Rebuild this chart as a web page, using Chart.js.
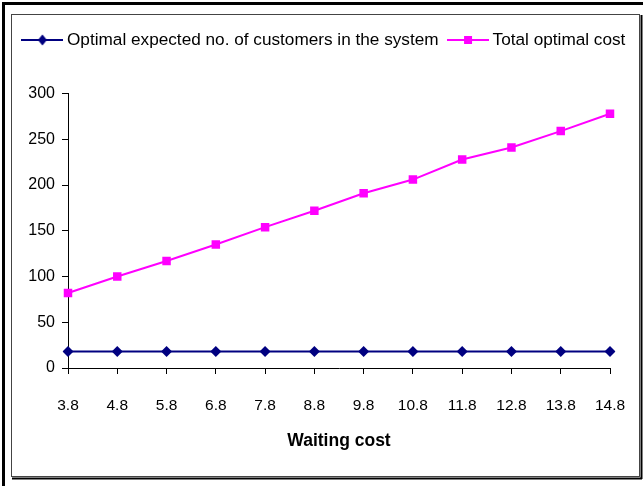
<!DOCTYPE html>
<html>
<head>
<meta charset="utf-8">
<script src="https://cdn.jsdelivr.net/npm/chart.js@4"></script>
<style>
  html, body { margin: 0; padding: 0; background: #fff; }
  #wrap { width: 643px; height: 486px; position: relative; }
</style>
</head>
<body>
<div id="wrap"><canvas id="c" width="643" height="486"></canvas></div>
<script>
const categories = ['3.8','4.8','5.8','6.8','7.8','8.8','9.8','10.8','11.8','12.8','13.8','14.8'];
const customersInSystem = [18, 18, 18, 18, 18, 18, 18, 18, 18, 18, 18, 18];
const totalOptimalCost = [82, 100, 117, 135, 154, 172, 191, 206, 228, 241, 259, 278];
const yTicks = [0, 50, 100, 150, 200, 250, 300];
const seriesNames = ['Optimal expected no. of customers in the system', 'Total optimal cost'];
const xTitle = 'Waiting cost';

const FONT = "'Liberation Sans', Arial, sans-serif";
const NAVY = '#000080';
const PINK = '#FF00FF';

function makeSymbol(color, shape) {
  const cv = document.createElement('canvas');
  cv.width = 42; cv.height = 14;
  const g = cv.getContext('2d');
  g.strokeStyle = color; g.lineWidth = 2;
  g.beginPath(); g.moveTo(0, 7); g.lineTo(42, 7); g.stroke();
  g.fillStyle = color;
  g.beginPath();
  if (shape === 'diamond') {
    g.moveTo(21, 1.5); g.lineTo(25.5, 7); g.lineTo(21, 12.5); g.lineTo(16.5, 7); g.closePath();
  } else {
    g.rect(17, 3, 8, 8);
  }
  g.fill();
  return cv;
}
const symbols = [makeSymbol(NAVY, 'diamond'), makeSymbol(PINK, 'square')];

const LEGEND_EXTRA = 35;

const framePlugin = {
  id: 'frame',
  beforeLayout(chart) {
    const lg = chart.legend;
    if (lg && !lg._extraPatched) {
      const orig = lg.fit.bind(lg);
      lg.fit = function () { orig(); this.height += LEGEND_EXTRA; };
      lg._extraPatched = true;
    }
  },
  beforeDraw(chart) {
    const ctx = chart.ctx;
    ctx.save();
    ctx.fillStyle = '#fff';
    ctx.fillRect(0, 0, chart.width, chart.height);
    ctx.restore();
  },
  afterDraw(chart) {
    const ctx = chart.ctx;
    ctx.save();
    ctx.strokeStyle = '#000';
    ctx.lineWidth = 3;
    ctx.beginPath();
    ctx.moveTo(643, 3.5); ctx.lineTo(3.5, 3.5); ctx.lineTo(3.5, 486);
    ctx.stroke();
    ctx.lineWidth = 1;
    ctx.strokeStyle = '#444';
    ctx.strokeRect(11.5, 14.5, 628, 462);
    ctx.strokeStyle = '#000';
    ctx.lineWidth = 2;
    ctx.beginPath();
    ctx.moveTo(12, 478.5); ctx.lineTo(642, 478.5);
    ctx.moveTo(641.5, 15); ctx.lineTo(641.5, 479);
    ctx.stroke();
    ctx.restore();
  }
};

new Chart(document.getElementById('c'), {
  type: 'line',
  data: {
    labels: categories,
    datasets: [
      {
        label: seriesNames[0],
        data: customersInSystem,
        borderColor: NAVY,
        backgroundColor: NAVY,
        borderWidth: 2,
        pointStyle: 'rectRot',
        pointRadius: 5.5,
        pointHoverRadius: 5.5,
        pointBorderWidth: 0,
        tension: 0
      },
      {
        label: seriesNames[1],
        data: totalOptimalCost,
        borderColor: PINK,
        backgroundColor: PINK,
        borderWidth: 2,
        pointStyle: 'rect',
        pointRadius: 6,
        pointHoverRadius: 6,
        pointBorderWidth: 0,
        tension: 0
      }
    ]
  },
  options: {
    responsive: false,
    animation: false,
    devicePixelRatio: 1,
    layout: { padding: { left: 13, right: 2, top: 18, bottom: 34 } },
    plugins: {
      tooltip: { enabled: false },
      legend: {
        position: 'top',
        align: 'start',
        labels: {
          usePointStyle: true,
          pointStyleWidth: 32,
          padding: 13.4,
          color: '#000',
          font: { family: FONT, size: 17.2 },
          generateLabels(chart) {
            return chart.data.datasets.map((ds, i) => ({
              text: ds.label,
              pointStyle: symbols[i],
              fillStyle: ds.borderColor,
              strokeStyle: ds.borderColor,
              lineWidth: 0,
              hidden: false,
              datasetIndex: i,
              fontColor: '#000'
            }));
          }
        }
      }
    },
    scales: {
      x: {
        type: 'category',
        offset: false,
        afterFit(scale) { scale.height = 84; scale.paddingRight = 33; },
        grid: { display: true, drawOnChartArea: false, drawTicks: true, tickLength: 6, color: '#000' },
        border: { display: true, color: '#000', width: 1 },
        ticks: { color: '#000', font: { family: FONT, size: 15.5 }, padding: 22, maxRotation: 0, autoSkip: false },
        title: { display: true, text: xTitle, color: '#000', font: { family: FONT, size: 17.5, weight: 'bold' }, padding: { top: 0, bottom: 0 } }
      },
      y: {
        min: 0,
        max: 300,
        afterFit(scale) { scale.width = 55; },
        afterBuildTicks(scale) { scale.ticks = yTicks.map(v => ({ value: v })); },
        grid: { display: true, drawOnChartArea: false, drawTicks: true, tickLength: 6, color: '#000' },
        border: { display: true, color: '#000', width: 1 },
        ticks: { color: '#000', font: { family: FONT, size: 16 }, padding: 7 }
      }
    }
  },
  plugins: [framePlugin]
});
</script>
</body>
</html>
